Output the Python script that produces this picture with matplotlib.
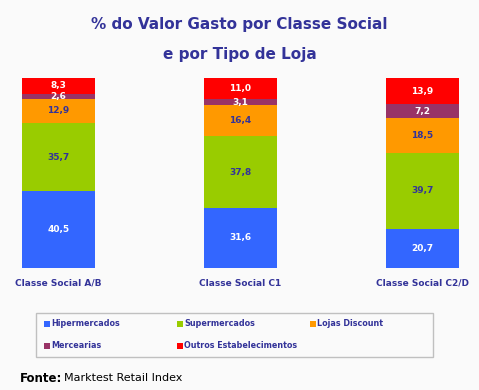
import matplotlib
matplotlib.use("Agg")
import matplotlib.pyplot as plt
from matplotlib.patches import Rectangle

# data
classes = ["Classe Social A/B", "Classe Social C1", "Classe Social C2/D"]
series = ["Hipermercados", "Supermercados", "Lojas Discount", "Mercearias", "Outros Estabelecimentos"]
hiper = [40.5, 31.6, 20.7]
super_ = [35.7, 37.8, 39.7]
discount = [12.9, 16.4, 18.5]
mercearias = [2.6, 3.1, 7.2]
outros = [8.3, 11.0, 13.9]

colors = ["#3366FF", "#99CC00", "#FF9900", "#993366", "#FF0000"]
label_colors = ["white", "#333399", "#333399", "white", "white"]
navy = "#333399"
W, H = 479, 390


def fx(x):
    return x / W


def fy(y):
    return 1 - y / H


fig = plt.figure(figsize=(W / 100, H / 100), dpi=100)
fig.patch.set_facecolor("#FAFAFA")

# axes spans the full width; bars centred at 58.5, 240.5, 422.5 px
ax = fig.add_axes([0, fy(268), 1, (268 - 78) / H])
ax.set_facecolor("none")
ax.set_xlim(-58.5 / 182, (W - 58.5) / 182)
ax.set_ylim(0, 100)
ax.axis("off")

x = range(len(classes))
bottoms = [0, 0, 0]
for vals, col, lcol in zip([hiper, super_, discount, mercearias, outros], colors, label_colors):
    ax.bar(x, vals, width=73 / 182, bottom=bottoms, color=col, linewidth=0)
    for i, v in enumerate(vals):
        ax.text(i, bottoms[i] + v / 2, f"{v:.1f}".replace(".", ","), ha="center", va="center",
                fontsize=6.5, fontweight="bold", color=lcol)
    bottoms = [b + v for b, v in zip(bottoms, vals)]

for i, c in enumerate(classes):
    ax.text(i, -8, c, ha="center", va="center", fontsize=6.5, fontweight="bold", color=navy)

fig.text(0.5, fy(25), "% do Valor Gasto por Classe Social", ha="center", va="center",
         fontsize=11, fontweight="bold", color=navy)
fig.text(0.5, fy(55), "e por Tipo de Loja", ha="center", va="center",
         fontsize=11, fontweight="bold", color=navy)

# legend box
fig.add_artist(Rectangle((fx(36), fy(357)), fx(433) - fx(36), (357 - 313) / H,
                         transform=fig.transFigure, facecolor="none", edgecolor="#C0C0C0", linewidth=1))
positions = [(44, 324), (177, 324), (310, 324), (44, 346), (177, 346)]
for name, col, (px, py) in zip(series, colors, positions):
    fig.add_artist(Rectangle((fx(px), fy(py + 3)), 6 / W, 6 / H, transform=fig.transFigure,
                             facecolor=col, edgecolor="none"))
    fig.text(fx(px + 7), fy(py), name, ha="left", va="center", fontsize=5.8,
             fontweight="bold", color=navy)

fig.text(fx(20), fy(378), "Fonte:", ha="left", va="center", fontsize=8.5, fontweight="bold", color="black")
fig.text(fx(64), fy(378), "Marktest Retail Index", ha="left", va="center", fontsize=8, color="black")

fig.savefig("out.png", dpi=100, facecolor=fig.get_facecolor())
